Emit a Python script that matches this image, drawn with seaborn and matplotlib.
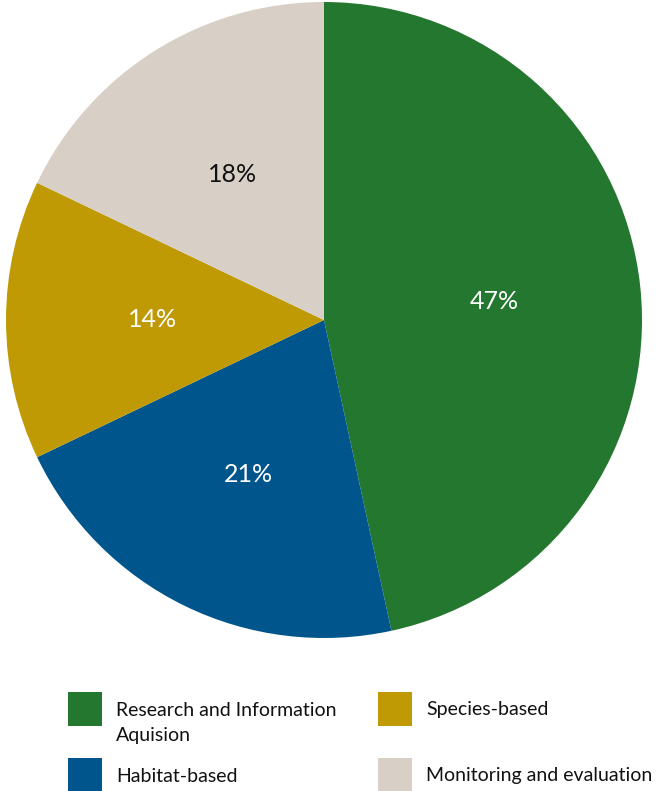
import matplotlib
matplotlib.use("Agg")
import matplotlib.pyplot as plt
from matplotlib.patches import Rectangle
import seaborn as sns

# data
categories = ["Research and Information\nAquision", "Habitat-based", "Species-based", "Monitoring and evaluation"]
shares = [46.6, 21.3, 14.2, 17.9]
colors = ["#23772F", "#00568C", "#BF9A05", "#D8D0C6"]
label_colors = ["white", "white", "white", "#111111"]

sns.set_theme(style="white")
plt.rcParams['font.family'] = ['Lato', 'DejaVu Sans']

W, H = 670, 791
fig = plt.figure(figsize=(W / 100, H / 100), dpi=100)

# pie axes, placed in pixels: center (324, 320), radius 318
cx, cy, r = 324, 320, 318
ax = fig.add_axes([(cx - r) / W, (H - cy - r) / H, 2 * r / W, 2 * r / H])
wedges, texts, autotexts = ax.pie(
    shares, colors=sns.color_palette(colors), startangle=90, counterclock=False,
    autopct='%.0f%%', pctdistance=0.54, radius=1.0,
    wedgeprops=dict(linewidth=0), textprops=dict(fontsize=18))
for t, c in zip(autotexts, label_colors):
    t.set_color(c)
ax.set_xlim(-1, 1)
ax.set_ylim(-1, 1)
ax.set_aspect('equal')
ax.axis('off')

# legend drawn in pixel coordinates (2 columns)
lax = fig.add_axes([0, 0, 1, 1])
lax.set_xlim(0, W)
lax.set_ylim(H, 0)
lax.axis('off')
col_x = [68, 378]
row_y = [692, 758]
order = [(0, 0), (1, 0), (0, 1), (1, 1)]  # (row, col) for each category
for (row, col), name, color in zip(order, categories, colors):
    x0, y0 = col_x[col], row_y[row]
    lax.add_patch(Rectangle((x0, y0), 34, 34, color=color, lw=0))
    # one text per line so the first line sits level with the square
    for i, line in enumerate(name.split("\n")):
        lax.text(x0 + 48, y0 + 23.5 + i * 26, line, fontsize=14, color="#111111",
                 va='baseline', ha='left')

fig.savefig("out.png", dpi=100)
